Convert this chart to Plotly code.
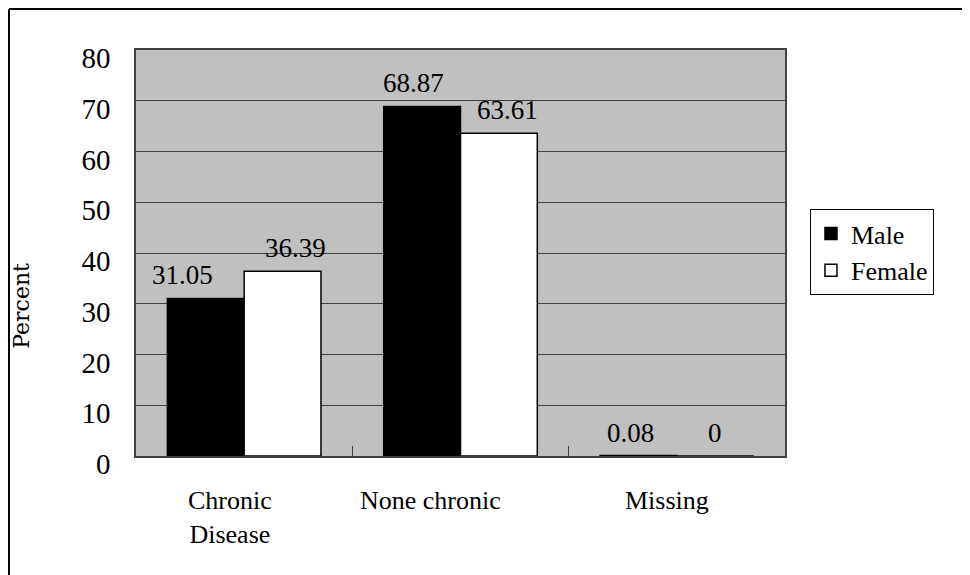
import plotly.graph_objects as go

categories = ["Chronic Disease", "None chronic", "Missing"]
category_labels = ["Chronic<br>Disease", "None chronic", "Missing"]
male = [31.05, 68.87, 0.08]
female = [36.39, 63.61, 0]
y_ticks = [0, 10, 20, 30, 40, 50, 60, 70, 80]

FONT = "Times New Roman"

fig = go.Figure()
fig.add_trace(go.Bar(
    x=categories, y=male, name="Male",
    marker=dict(color="black", line=dict(color="black", width=1.5)),
))
fig.add_trace(go.Bar(
    x=categories, y=female, name="Female",
    marker=dict(color="white", line=dict(color="black", width=1.5)),
))

# value labels (Excel-style placement above each bar)
male_dx = [-62, -47, -46]
female_dx = [51, 47, 38]
for cat, v, dx in zip(categories, male, male_dx):
    fig.add_annotation(x=cat, y=v, xref="x", yref="y", text=str(v), showarrow=False,
                       yanchor="bottom", xanchor="center", xshift=dx, yshift=6,
                       font=dict(family=FONT, size=27, color="black"))
for cat, v, dx in zip(categories, female, female_dx):
    fig.add_annotation(x=cat, y=v, xref="x", yref="y", text=str(v), showarrow=False,
                       yanchor="bottom", xanchor="center", xshift=dx, yshift=6,
                       font=dict(family=FONT, size=27, color="black"))

shifts = [-14, -30, -10]
for cat, lab, sh in zip(categories, category_labels, shifts):
    fig.add_annotation(x=cat, y=0, xref="x", yref="paper", text=lab,
                       showarrow=False, yanchor="top", yshift=-28, xshift=sh,
                       font=dict(family=FONT, size=26, color="black"))

fig.add_annotation(x=-0.1757, y=0.37, xref="paper", yref="paper", text="Percent",
                   textangle=-90, showarrow=False, xanchor="center", yanchor="middle",
                   font=dict(family="DejaVu Serif", size=22, color="black"))

# outer frame (left and top edges visible)
fig.add_shape(type="line", xref="paper", yref="paper", x0=-0.1957, x1=-0.1957,
              y0=1.101, y1=-0.35, line=dict(color="black", width=2))
fig.add_shape(type="line", xref="paper", yref="paper", x0=-0.1957, x1=1.35,
              y0=1.101, y1=1.101, line=dict(color="black", width=2))

fig.update_layout(
    width=970, height=575,
    margin=dict(l=128, r=193, t=42, b=127),
    paper_bgcolor="white", plot_bgcolor="#C0C0C0",
    barmode="group", bargap=0.29, bargroupgap=0,
    font=dict(family=FONT, color="black"),
    legend=dict(x=1.0385, y=0.608, xanchor="left", yanchor="top",
                bordercolor="black", borderwidth=1, bgcolor="white",
                font=dict(family=FONT, size=26, color="black")),
    showlegend=True,
)
fig.update_xaxes(showticklabels=False, showline=True, linecolor="#404040", linewidth=1.5,
                 mirror=True, ticks="inside", ticklen=10, tickcolor="#404040",
                 tickson="boundaries", showgrid=False, range=[-0.5, 2.5])
fig.update_yaxes(range=[0, 80], tickvals=y_ticks, showline=True, linecolor="#404040",
                 linewidth=1.5, mirror=True, gridcolor="#404040", gridwidth=1,
                 ticks="inside", ticklen=10, tickcolor="#404040",
                 tickfont=dict(family=FONT, size=29, color="black"),
                 ticklabelstandoff=18, ticklabelshift=8, zeroline=False)

fig.write_html("out.html")
